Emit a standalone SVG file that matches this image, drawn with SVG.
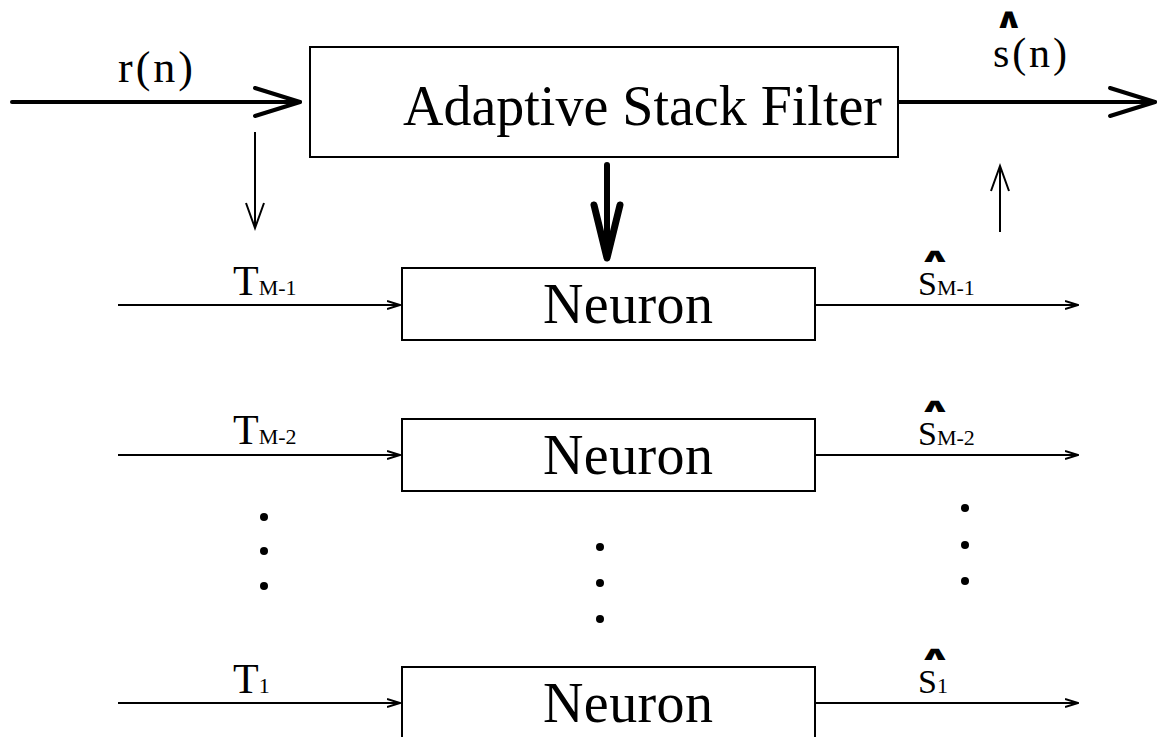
<svg xmlns="http://www.w3.org/2000/svg" width="1159" height="737" viewBox="0 0 1159 737">
<style>
text{font-family:"Liberation Serif","Times New Roman",serif;fill:#000}
.box{fill:#fff;stroke:#000;stroke-width:2}
.thin{stroke:#000;stroke-width:2;fill:none}
.thick{stroke:#000;stroke-width:4;fill:none;stroke-linecap:round}
.big{font-size:56px}
.T{font-size:42px}
.S{font-size:34px}
.sub{font-size:22px}
.hat{font-family:"DejaVu Sans",sans-serif;font-size:26px;font-weight:bold}
</style>
<defs>
<marker id="ah" markerWidth="14" markerHeight="10" refX="13" refY="5" orient="auto" markerUnits="userSpaceOnUse">
<path d="M0,1 L13,5 L0,9" fill="none" stroke="#000" stroke-width="2"/>
</marker>
</defs>
<rect width="1159" height="737" fill="#fff"/>
<g id="connectors">
<line class="thick" x1="12" y1="102" x2="300" y2="102"/>
<path class="thick" d="M255,88 L300,102 L255,116" stroke-linejoin="round"/>
<line class="thick" x1="898" y1="102" x2="1155" y2="102"/>
<path class="thick" d="M1110,88 L1155,102 L1110,116" stroke-linejoin="round"/>
<line class="thin" x1="255" y1="132" x2="255" y2="228"/>
<path class="thin" d="M246,203 L255,228 L264,203"/>
<line class="thin" x1="1000" y1="232" x2="1000" y2="166"/>
<path class="thin" d="M991,191 L1000,166 L1009,191"/>
<line x1="607" y1="165" x2="607" y2="258" stroke="#000" stroke-width="6" stroke-linecap="round"/>
<path d="M594,205 L607,258 L620,205" fill="none" stroke="#000" stroke-width="7" stroke-linecap="round" stroke-linejoin="round"/>
<line class="thin" x1="118" y1="305" x2="400" y2="305" marker-end="url(#ah)"/>
<line class="thin" x1="815" y1="305" x2="1078" y2="305" marker-end="url(#ah)"/>
<line class="thin" x1="118" y1="455" x2="400" y2="455" marker-end="url(#ah)"/>
<line class="thin" x1="815" y1="455" x2="1078" y2="455" marker-end="url(#ah)"/>
<line class="thin" x1="118" y1="703" x2="400" y2="703" marker-end="url(#ah)"/>
<line class="thin" x1="815" y1="703" x2="1078" y2="703" marker-end="url(#ah)"/>
</g>
<g id="labels">
<text x="118" y="82" textLength="75" style="font-size:44px">r(n)</text>
<text x="993" y="67" textLength="74" style="font-size:42px">s(n)</text>
<text class="hat" transform="translate(994,28) scale(1.4,1.1)">∧</text>
<text x="233" y="295"><tspan class="T">T</tspan><tspan class="sub">M-1</tspan></text>
<text x="233" y="444"><tspan class="T">T</tspan><tspan class="sub">M-2</tspan></text>
<text x="233" y="693"><tspan class="T">T</tspan><tspan class="sub">1</tspan></text>
<text class="hat" transform="translate(918,262) scale(1.6,0.75)">∧</text>
<text x="918" y="295"><tspan class="S">S</tspan><tspan class="sub">M-1</tspan></text>
<text class="hat" transform="translate(918,412) scale(1.6,0.75)">∧</text>
<text x="918" y="445"><tspan class="S">S</tspan><tspan class="sub">M-2</tspan></text>
<text class="hat" transform="translate(918,660) scale(1.6,0.75)">∧</text>
<text x="918" y="693"><tspan class="S">S</tspan><tspan class="sub">1</tspan></text>
</g>
<g id="filter">
<rect class="box" x="310" y="47" width="588" height="110"/>
<text class="big" x="403" y="125" textLength="479">Adaptive Stack Filter</text>
</g>
<g id="neuron1">
<rect class="box" x="402" y="268" width="413" height="72"/>
<text class="big" x="543" y="323" textLength="170">Neuron</text>
</g>
<g id="neuron2">
<rect class="box" x="402" y="419" width="413" height="72"/>
<text class="big" x="543" y="474" textLength="170">Neuron</text>
</g>
<g id="neuron3">
<rect class="box" x="402" y="667" width="413" height="80"/>
<text class="big" x="543" y="722" textLength="170">Neuron</text>
</g>
<g id="dots" fill="#000">
<circle cx="264" cy="517" r="4"/><circle cx="264" cy="551" r="4"/><circle cx="264" cy="586" r="4"/>
<circle cx="600" cy="547" r="4"/><circle cx="600" cy="583" r="4"/><circle cx="600" cy="619" r="4"/>
<circle cx="965" cy="508" r="4"/><circle cx="965" cy="545" r="4"/><circle cx="965" cy="581" r="4"/>
</g>
</svg>
